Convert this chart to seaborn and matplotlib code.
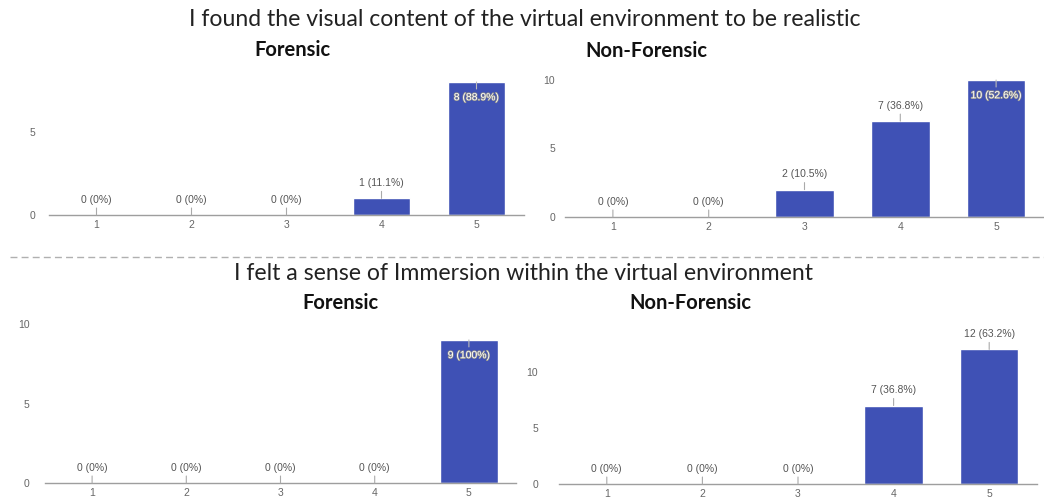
import matplotlib
matplotlib.use("Agg")
import matplotlib.pyplot as plt
import matplotlib.patheffects as pe
import seaborn as sns

# Likert scale answers (1-5) per question and group
categories = ["1", "2", "3", "4", "5"]
realistic_forensic = [0, 0, 0, 1, 8]
realistic_nonforensic = [0, 0, 2, 7, 10]
immersion_forensic = [0, 0, 0, 0, 9]
immersion_nonforensic = [0, 0, 0, 7, 12]

question_titles = [
    "I found the visual content of the virtual environment to be realistic",
    "I felt a sense of Immersion within the virtual environment",
]
group_titles = ["Forensic", "Non-Forensic"]

BAR_COLOR = "#3f51b5"
W, H = 1044, 499


def px_axes(fig, left, right, y0, ytop):
    """Create axes from pixel coordinates (measured from top-left)."""
    return fig.add_axes([left / W, (H - y0) / H, (right - left) / W, (y0 - ytop) / H])


def pct_label(v, total):
    p = round(100.0 * v / total, 1)
    if p == int(p):
        return f"{v} ({int(p)}%)"
    return f"{v} ({p}%)"


def draw_panel(ax, values, ymax, ypad):
    sns.barplot(x=categories, y=values, ax=ax, color=BAR_COLOR,
                saturation=1, width=0.61)
    ax.set_xlim(-0.5, 4.5)
    ax.set_ylim(0, ymax)
    ax.set_yticks([t for t in [0, 5, 10] if t <= ymax])
    ax.set_xlabel("")
    ax.set_ylabel("")
    for side in ["top", "right", "left"]:
        ax.spines[side].set_visible(False)
    ax.spines["bottom"].set_color("#9e9e9e")
    ax.spines["bottom"].set_linewidth(1.0)
    ax.tick_params(axis="both", length=0, labelsize=7.5, colors="#666666",
                   labelfontfamily="Liberation Sans")
    ax.tick_params(axis="x", pad=3.5)
    ax.tick_params(axis="y", pad=ypad)
    ax.patch.set_alpha(0)

    total = sum(values)
    for i, v in enumerate(values):
        label = pct_label(v, total)
        inside = v / ymax > 0.88
        if inside:
            ax.annotate(label, xy=(i, v), xytext=(0, -11), textcoords="offset points",
                        ha="center", va="center", fontsize=7.5, color="white",
                        family="Liberation Sans", annotation_clip=False,
                        path_effects=[pe.withStroke(linewidth=1.0, foreground="#8a8a8a")],
                        arrowprops=dict(arrowstyle="-", color="#bbbbbb", lw=0.8,
                                        shrinkA=0, shrinkB=0))
        else:
            ax.annotate(label, xy=(i, v), xytext=(0, 11), textcoords="offset points",
                        ha="center", va="center", fontsize=7.5, color="#555555",
                        family="Liberation Sans", annotation_clip=False,
                        arrowprops=dict(arrowstyle="-", color="#aaaaaa", lw=0.8,
                                        shrinkA=0, shrinkB=0))


sns.set_style("white")
plt.rcParams["font.family"] = ["Lato", "DejaVu Sans"]

fig = plt.figure(figsize=(W / 100, H / 100), dpi=100)

# top row
ax1 = px_axes(fig, 49, 524, 215, 77)
draw_panel(ax1, realistic_forensic, 8.3, 10)
ax2 = px_axes(fig, 565, 1044, 217, 80)
draw_panel(ax2, realistic_nonforensic, 10, 7)

# bottom row
ax3 = px_axes(fig, 45, 516, 483, 324)
draw_panel(ax3, immersion_forensic, 10, 11)
ax4 = px_axes(fig, 559, 1037, 484, 327)
draw_panel(ax4, immersion_nonforensic, 14, 15)

# titles
fig.text(525 / W, 1 - 20 / H, question_titles[0], ha="center", va="center",
         fontsize=16.6, color="#222222")
fig.text(292 / W, 1 - 50 / H, group_titles[0], ha="center", va="center",
         fontsize=14.5, fontweight="bold", color="#111111")
fig.text(646 / W, 1 - 51 / H, group_titles[1], ha="center", va="center",
         fontsize=14.5, fontweight="bold", color="#111111")

fig.text(524 / W, 1 - 273 / H, question_titles[1], ha="center", va="center",
         fontsize=16.6, color="#222222")
fig.text(340 / W, 1 - 303 / H, group_titles[0], ha="center", va="center",
         fontsize=14.5, fontweight="bold", color="#111111")
fig.text(690 / W, 1 - 303 / H, group_titles[1], ha="center", va="center",
         fontsize=14.5, fontweight="bold", color="#111111")

# dashed separator between the two questions
fig.add_artist(plt.Line2D([10 / W, 1.0], [1 - 257 / H, 1 - 257 / H],
                          transform=fig.transFigure, color="#b0b0b0", lw=1.0,
                          linestyle=(0, (5, 3))))

fig.savefig("out.png", dpi=100)
